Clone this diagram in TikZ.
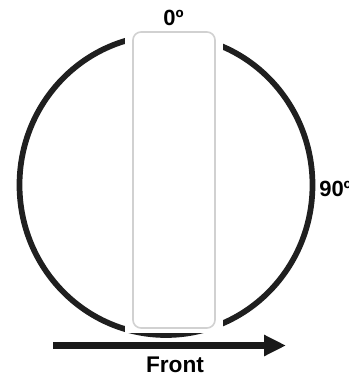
\documentclass[tikz,border=0pt]{standalone}
\usepackage{fontspec}
\setmainfont{Liberation Sans}
\usetikzlibrary{arrows.meta,positioning}

\begin{document}
\begin{tikzpicture}[
    x=0.75pt,y=-0.75pt,
    >={Triangle[length=16.5pt,width=15pt]},
    every node/.style={font=\fontsize{16.5}{18}\selectfont\bfseries}
]

\useasboundingbox (0,0) rectangle (349,378);

% circle
\draw[line width=4.3pt,black!88] (166,185) ellipse [x radius=146.5, y radius=150];

% gap round the board
\fill[white] (125,29) rectangle (223,333);

% board
\node[draw=black!18,line width=1.2pt,fill=white,rounded corners=6pt,
      minimum width=61.5pt,minimum height=222pt,inner sep=0pt] (board) at (174,180) {};

% angle labels
\node (zero) at (173.5,17.5) {0º};
\node[anchor=west,inner sep=0pt] (ninety) at (319,189) {90º};

% direction arrow
\coordinate (arrowstart) at (53,345.5);
\coordinate (arrowend) at (286,345.5);
\draw[->,line width=5.6pt,black!90] (arrowstart) -- (arrowend);
\node[font=\fontsize{17}{19}\selectfont\bfseries] (front) at (175,365) {Front};

\end{tikzpicture}
\end{document}
